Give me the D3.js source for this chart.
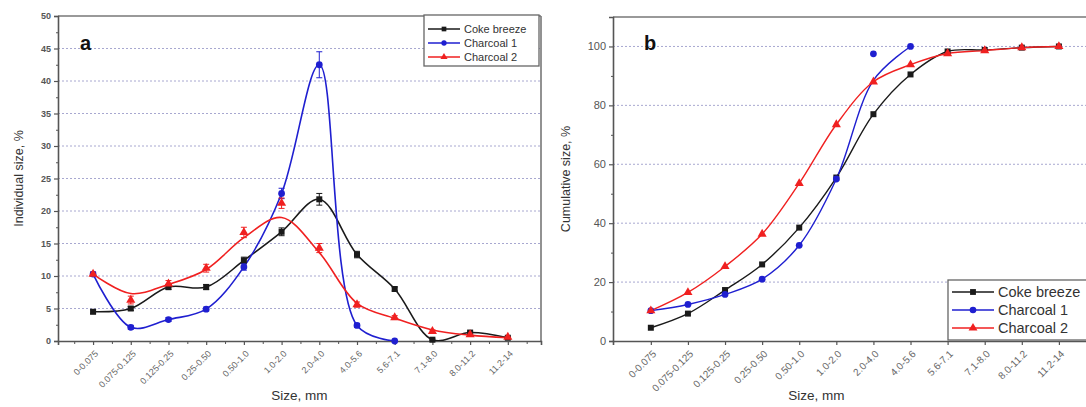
<!DOCTYPE html>
<html>
<head>
<meta charset="utf-8">
<script src="https://cdn.jsdelivr.net/npm/d3@7"></script>
<style>
html,body{margin:0;padding:0;background:#fff;}
svg{display:block;font-family:"Liberation Sans",Arial,sans-serif;}
</style>
</head>
<body>
<svg id="chart" width="1086" height="407"></svg>
<script>
// ---------- DATA ----------
const categories = ["0-0.075","0.075-0.125","0.125-0.25","0.25-0.50","0.50-1.0","1.0-2.0","2.0-4.0","4.0-5.6","5.6-7.1","7.1-8.0","8.0-11.2","11.2-14"];

// Panel a: individual size, %
const cokeIndividual     = [4.5, 5.0, 8.3, 8.3, 12.4, 16.8, 21.8, 13.3, 8.0, 0.2, 1.3, 0.5];
const cokeIndividualErr  = [0.3, 0.3, 0.4, 0.4, 0.5, 0.6, 0.9, 0.5, 0.3, 0.1, 0.2, 0.1];
const char1Individual    = [10.3, 2.1, 3.3, 4.9, 11.4, 22.7, 42.5, 2.4, 0.0];
const char1IndividualErr = [0.3, 0.3, 0.3, 0.3, 0.5, 0.8, 2.0, 0.3, 0.0];
const char2Individual    = [10.3, 6.3, 8.8, 11.2, 16.7, 21.2, 14.3, 5.6, 3.6, 1.5, 1.0, 0.6];
const char2IndividualErr = [0.3, 0.6, 0.5, 0.6, 0.8, 0.8, 0.7, 0.4, 0.3, 0.2, 0.2, 0.1];
const char2IndividualFit = [10.3, 7.3, 8.7, 11.0, 15.9, 19.0, 13.6, 5.8, 3.5, 1.7, 0.9, 0.5];

// Panel b: cumulative size, %
const cokeCumulative  = [4.5, 9.3, 17.3, 26.0, 38.5, 55.5, 77.0, 90.5, 98.3, 98.8, 99.6, 100];
const char1Cumulative = [10.3, 12.4, 15.8, 21.0, 32.5, 55.0, 97.5, 100];
const char1CumulativeFit = [10.3, 12.4, 15.8, 21.0, 32.5, 55.0, 88.5, 100];
const char2Cumulative = [10.3, 16.5, 25.3, 36.3, 53.5, 73.5, 88.0, 93.8, 97.6, 98.6, 99.6, 100];

const seriesNames = ["Coke breeze", "Charcoal 1", "Charcoal 2"];
const yTicksA = [0,5,10,15,20,25,30,35,40,45,50];
const yTicksB = [0,20,40,60,80,100];

// ---------- STYLE ----------
const colors = {"Coke breeze":"#1a1a1a","Charcoal 1":"#1f1fd0","Charcoal 2":"#f02020"};
const shapes = {"Coke breeze":d3.symbolSquare,"Charcoal 1":d3.symbolCircle,"Charcoal 2":d3.symbolTriangle};
const axisColor = "#555";
const gridColor = "#a8a8d0";

const svg = d3.select("#chart");

function drawPanel(cfg){
  const g = svg.append("g");
  const x = d3.scaleLinear().domain(cfg.xDomain).range([cfg.left, cfg.right]);
  const y = d3.scaleLinear().domain(cfg.yDomain).range([cfg.bottom, cfg.top]);
  const clipId = "clip" + cfg.id;
  svg.append("clipPath").attr("id", clipId).append("rect")
    .attr("x", cfg.left).attr("y", cfg.top).attr("width", cfg.right-cfg.left).attr("height", cfg.bottom-cfg.top);

  // grid
  g.append("g").selectAll("line").data(cfg.yTicks.filter(v=>v>0 && v<cfg.yDomain[1]-0.01)).join("line")
    .attr("x1", cfg.left).attr("x2", cfg.right).attr("y1", d=>y(d)).attr("y2", d=>y(d))
    .attr("stroke", gridColor).attr("stroke-width", 1).attr("stroke-dasharray", "2,2");

  // frame top/right
  g.append("line").attr("x1", cfg.left).attr("x2", cfg.right).attr("y1", cfg.top).attr("y2", cfg.top)
    .attr("stroke", "#777").attr("stroke-width", 1.6);
  g.append("line").attr("x1", cfg.right).attr("x2", cfg.right).attr("y1", cfg.top).attr("y2", cfg.bottom)
    .attr("stroke", "#777").attr("stroke-width", 1.6);

  // y axis
  const yAxis = d3.axisLeft(y).tickValues(cfg.yTicks).tickSize(4).tickPadding(3).tickFormat(d3.format("d"));
  const ya = g.append("g").attr("transform", `translate(${cfg.left},0)`).call(yAxis);
  ya.select(".domain").attr("stroke", axisColor).attr("stroke-width", 1.6);
  ya.selectAll(".tick line").attr("stroke", axisColor).attr("stroke-width", 1.2);
  ya.selectAll(".tick text").attr("fill", "#555").attr("font-size", cfg.yFont).attr("font-weight", cfg.yWeight);
  const yMinor = g.append("g").attr("transform", `translate(${cfg.left},0)`)
    .call(d3.axisLeft(y).tickValues(cfg.yMinor).tickSize(2).tickFormat(""));
  yMinor.select(".domain").remove();
  yMinor.selectAll(".tick line").attr("stroke", axisColor);

  // x axis
  const xAxis = d3.axisBottom(x).tickValues(d3.range(categories.length)).tickSize(4).tickFormat(i=>categories[i]);
  const xa = g.append("g").attr("transform", `translate(0,${cfg.bottom})`).call(xAxis);
  xa.select(".domain").attr("stroke", axisColor).attr("stroke-width", 1.6);
  xa.selectAll(".tick line").attr("stroke", axisColor).attr("stroke-width", 1.2);
  xa.selectAll(".tick text")
    .attr("fill", "#666").attr("font-size", cfg.xFont)
    .attr("text-anchor", "end").attr("y", 0).attr("dy", "0.35em")
    .attr("transform", "translate(3,11) rotate(-45)");
  if (cfg.xMinor){
    const xm = g.append("g").attr("transform", `translate(0,${cfg.bottom})`)
      .call(d3.axisBottom(x).tickValues(cfg.xMinor).tickSize(3).tickFormat(""));
    xm.select(".domain").remove();
    xm.selectAll(".tick line").attr("stroke", axisColor);
  }

  // lines
  const plot = g.append("g").attr("clip-path", `url(#${clipId})`);
  const line = d3.line().x((d,i)=>x(i)).y(d=>y(d)).curve(d3.curveCatmullRom.alpha(0.5));
  cfg.series.forEach(s=>{
    plot.append("path").datum(s.line || s.values).attr("d", line)
      .attr("fill","none").attr("stroke", colors[s.name]).attr("stroke-width", cfg.lineWidth);
  });
  // error bars
  cfg.series.forEach(s=>{
    if(!s.err) return;
    const eb = g.append("g").attr("stroke", colors[s.name]).attr("stroke-width", 1);
    s.values.forEach((v,i)=>{
      const e = s.err[i]; if(!e) return;
      eb.append("line").attr("x1", x(i)).attr("x2", x(i)).attr("y1", y(v-e)).attr("y2", y(v+e));
      eb.append("line").attr("x1", x(i)-3).attr("x2", x(i)+3).attr("y1", y(v-e)).attr("y2", y(v-e));
      eb.append("line").attr("x1", x(i)-3).attr("x2", x(i)+3).attr("y1", y(v+e)).attr("y2", y(v+e));
    });
  });
  // markers
  cfg.series.forEach(s=>{
    g.append("g").selectAll("path").data(s.values).join("path")
      .attr("transform", (d,i)=>`translate(${x(i)},${y(d)})`)
      .attr("d", d3.symbol().type(shapes[s.name]).size(cfg.markerSize))
      .attr("fill", colors[s.name]);
  });

  // panel letter
  g.append("text").attr("x", cfg.letterX).attr("y", cfg.letterY).text(cfg.letter)
    .attr("font-size", 20).attr("font-weight", "bold").attr("fill", "#111");

  // axis titles
  g.append("text").attr("x", (cfg.left+cfg.labelRight)/2).attr("y", 400).attr("text-anchor","middle")
    .attr("font-size", 13.5).attr("fill", "#333").text("Size, mm");
  g.append("text").attr("transform", `translate(${cfg.yTitleX},${(cfg.top+cfg.bottom)/2}) rotate(-90)`)
    .attr("text-anchor","middle").attr("font-size", 12.5).attr("fill", "#333").text(cfg.yTitle);

  // legend
  const L = cfg.legend;
  const lg = g.append("g");
  lg.append("rect").attr("x", L.x).attr("y", L.y).attr("width", L.w).attr("height", L.h)
    .attr("fill", "#fff").attr("stroke", "#666").attr("stroke-width", 1.3);
  seriesNames.forEach((n,i)=>{
    const cy = L.y + L.first + i*L.step;
    lg.append("line").attr("x1", L.x+4).attr("x2", L.x+4+L.lineLen).attr("y1", cy).attr("y2", cy)
      .attr("stroke", colors[n]).attr("stroke-width", 1.5);
    lg.append("path").attr("transform", `translate(${L.x+4+L.lineLen/2},${cy})`)
      .attr("d", d3.symbol().type(shapes[n]).size(L.marker)).attr("fill", colors[n]);
    lg.append("text").attr("x", L.x+8+L.lineLen).attr("y", cy).attr("dy","0.35em")
      .attr("font-size", L.font).attr("fill", "#333").text(n);
  });
}

drawPanel({
  id:"a", left:58, right:541, top:16, bottom:341,
  xDomain:[-0.93, 11.88], yDomain:[0,50], yTicks:yTicksA,
  yMinor:d3.range(2.5, 50, 5), xMinor:d3.range(-0.5, 12, 1),
  yFont:9, yWeight:"bold", xFont:9, lineWidth:1.6, markerSize:36,
  series:[
    {name:"Coke breeze", values:cokeIndividual, err:cokeIndividualErr},
    {name:"Charcoal 1", values:char1Individual, err:char1IndividualErr},
    {name:"Charcoal 2", values:char2Individual, err:char2IndividualErr, line:char2IndividualFit}
  ],
  letter:"a", letterX:80, letterY:50, labelRight:541,
  yTitle:"Individual size, %", yTitleX:23,
  legend:{x:424, y:15, w:115, h:51, first:14, step:14, lineLen:32, marker:22, font:11}
});

drawPanel({
  id:"b", left:613, right:1096, top:17, bottom:341,
  xDomain:[-1.02, 12], yDomain:[0,110], yTicks:yTicksB,
  yMinor:d3.range(10, 110, 20), xMinor:null,
  yFont:11, yWeight:"normal", xFont:10, lineWidth:1.4, markerSize:36,
  series:[
    {name:"Coke breeze", values:cokeCumulative},
    {name:"Charcoal 1", values:char1Cumulative, line:char1CumulativeFit},
    {name:"Charcoal 2", values:char2Cumulative}
  ],
  letter:"b", letterX:644, letterY:50, labelRight:1020,
  yTitle:"Cumulative size, %", yTitleX:570,
  legend:{x:948, y:280, w:150, h:60, first:12, step:18, lineLen:42, marker:34, font:14.5}
});
</script>
</body>
</html>
